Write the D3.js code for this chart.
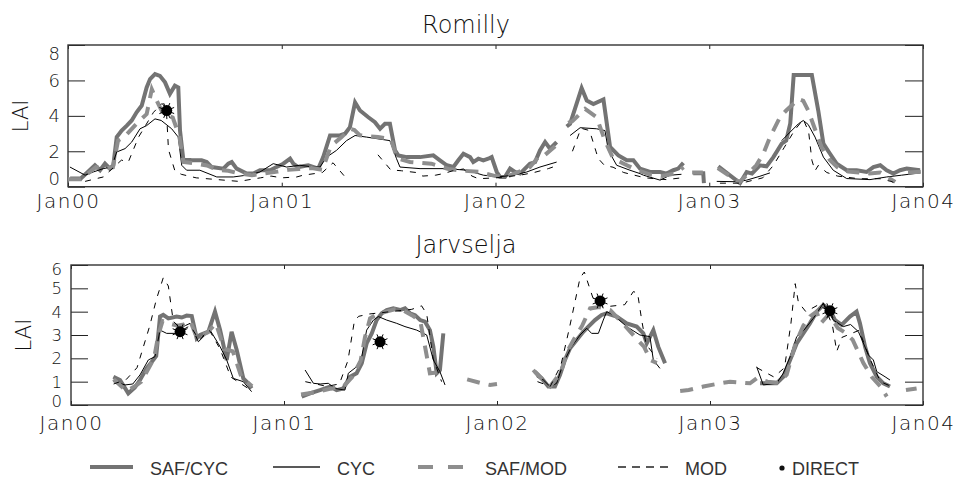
<!DOCTYPE html>
<html>
<head>
<meta charset="utf-8">
<script src="https://cdn.jsdelivr.net/npm/d3@7"></script>
<style>
  html, body { margin: 0; padding: 0; background: #fff; }
  svg { display: block; }
</style>
</head>
<body>
<div id="chart"></div>
<script>
// ---------------- DATA (time in years since Jan 2000, LAI values; null = gap) ----------------
const X_TICKS = [0, 1, 2, 3, 4];
const X_LABELS = ["Jan00", "Jan01", "Jan02", "Jan03", "Jan04"];
const ROM_Y_TICKS = [0, 2, 4, 6, 8];
const JAR_Y_TICKS = [0, 1, 2, 3, 4, 5, 6];
const LEGEND_LABELS = ["SAF/CYC", "CYC", "SAF/MOD", "MOD", "DIRECT"];

const romSafCyc = [[0.01,0.46],[0.06,0.46],[0.126,1.21],[0.15,0.93],[0.173,1.3],[0.196,1.02],[0.212,1.21],[0.228,2.8],[0.251,3.17],[0.275,3.45],[0.298,3.74],[0.321,4.2],[0.345,4.58],[0.368,5.6],[0.384,6.08],[0.407,6.36],[0.43,6.26],[0.454,5.89],[0.477,5.24],[0.5,5.7],[0.516,5.6],[0.524,3.17],[0.539,1.58],[0.578,1.49],[0.625,1.49],[0.649,1.39],[0.672,1.11],[0.727,1.02],[0.75,1.3],[0.766,1.39],[0.789,1.02],[0.836,0.74],[0.867,0.74],[0.898,0.93],[0.945,0.93],[0.976,1.11],[1.007,1.3],[1.039,1.58],[1.054,1.3],[1.077,1.11],[1.124,1.21],[1.171,1.02],[1.194,1.67],[1.226,2.89],[1.272,2.89],[1.296,2.99],[1.319,3.36],[1.343,4.76],[1.366,4.3],[1.405,3.92],[1.436,3.64],[1.46,3.27],[1.483,3.55],[1.506,3.55],[1.53,2.05],[1.545,1.77],[1.585,1.67],[1.647,1.67],[1.709,1.77],[1.74,1.49],[1.772,1.21],[1.803,1.11],[1.826,1.49],[1.85,1.86],[1.881,1.67],[1.896,1.39],[1.92,1.58],[1.943,1.49],[1.966,1.58],[1.982,1.67],[2.006,0.83],[2.021,0.55],[2.044,0.55],[2.068,1.02],[2.091,0.83],[2.115,0.74],[2.138,1.02],[2.161,1.3],[2.185,1.39],[2.208,2.05],[2.232,2.52],[2.255,2.15],[2.286,2.52],null,[2.333,3.4],[2.349,3.55],[2.403,5.57],[2.427,4.86],[2.458,4.67],[2.505,4.93],[2.536,2.24],[2.575,1.77],[2.614,1.49],[2.645,1.49],[2.676,1.02],[2.723,0.83],[2.77,0.83],[2.8,0.74],[2.832,0.93],[2.855,1.02],[2.879,1.34],null,[2.925,0.76],[2.972,0.76],[2.975,0.2],null,[3.042,1.15],[3.144,0.21],[3.175,0.83],[3.2,0.74],[3.237,1.21],[3.268,1.15],[3.3,1.67],[3.339,2.43],[3.36,2.6],[3.379,3.57],[3.395,6.3],[3.48,6.3],[3.51,4.3],[3.534,2.43],[3.565,1.86],[3.596,1.3],[3.643,0.93],[3.69,0.93],[3.736,0.83],[3.768,1.11],[3.8,1.21],[3.83,0.93],[3.861,0.74],[3.893,0.93],[3.924,1.02],[3.986,0.93]];
const romCyc = [[0.009,1.11],[0.08,0.65],[0.118,0.83],[0.165,1.02],[0.204,1.11],[0.228,1.96],[0.267,2.15],[0.298,2.52],[0.337,3.27],[0.368,3.45],[0.407,3.83],[0.436,3.74],[0.485,3.27],[0.516,2.8],[0.532,1.21],[0.555,0.93],[0.617,0.93],[0.696,0.55],[0.773,0.55],[0.836,0.65],[0.898,0.83],[0.96,1.3],[1.023,1.11],[1.085,1.21],[1.148,1.11],[1.179,1.11],[1.21,1.67],[1.256,2.05],[1.303,2.6],[1.343,2.89],[1.397,2.8],[1.506,2.6],[1.537,1.58],[1.553,1.11],[1.647,1.02],[1.772,1.02],[1.865,0.93],[1.943,0.65],[2.013,0.55],[2.083,0.65],[2.146,0.83],[2.208,1.11],[2.286,1.39],null,[2.349,2.89],[2.396,3.33],[2.473,3.27],[2.512,3.17],[2.528,2.05],[2.567,1.21],[2.629,0.93],[2.676,0.74],[2.692,0.65],[2.77,0.37],[2.817,0.65],[2.87,0.7],null,[3.035,0.3],[3.13,0.28],[3.175,0.37],[3.237,0.59],[3.284,0.78],null,[3.339,2.6],[3.378,3.08],[3.417,3.55],[3.44,3.74],[3.463,3.51],[3.495,2.8],[3.534,1.67],[3.58,0.93],[3.643,0.46],[3.752,0.4],[3.83,0.55],[3.9,0.65],[3.986,0.78]];
const romSafMod = [[0.0,0.42],[0.06,0.42],[0.13,1.1],[0.17,1.0],[0.21,1.1],[0.234,2.6],[0.27,2.9],[0.32,3.55],[0.368,4.1],[0.392,5.5],[0.415,4.86],[0.446,4.1],[0.49,3.9],[0.52,2.9],[0.54,1.4],[0.6,1.3],[0.65,1.2],[0.7,0.95],[0.75,0.9],[0.8,0.75],[0.86,0.65],[0.92,0.75],[0.98,0.85],[1.03,0.95],[1.08,1.0],[1.14,1.05],[1.19,0.95],[1.23,2.3],[1.28,2.8],[1.319,3.27],[1.34,3.2],[1.366,2.9],[1.45,2.8],[1.51,2.7],[1.54,1.6],[1.6,1.4],[1.7,1.3],[1.78,1.0],[1.85,0.9],[1.92,0.85],[2.0,0.6],[2.05,0.55],[2.1,0.8],[2.16,1.1],[2.208,1.77],[2.232,1.8],[2.28,2.3],null,[2.34,3.6],[2.36,3.7],[2.419,4.39],[2.473,3.92],[2.512,2.6],[2.55,1.6],[2.6,1.3],[2.65,1.0],[2.72,0.7],[2.78,0.6],[2.84,0.75],[2.88,1.1],null,[2.92,0.8],[2.97,0.8],null,[3.04,1.05],[3.14,0.25],[3.18,0.7],[3.22,1.21],[3.253,1.86],[3.284,2.8],[3.331,3.92],[3.36,4.3],[3.393,4.67],[3.417,4.95],[3.44,4.85],[3.463,4.3],[3.525,2.24],[3.565,1.49],[3.6,1.1],[3.65,0.85],[3.7,0.8],[3.75,0.75],[3.8,0.8],[3.87,0.27],null,[3.93,0.8],[3.99,0.85]];
const romMod = [[0.08,0.3],[0.165,0.55],[0.25,1.5],[0.282,1.39],[0.33,2.8],[0.4,4.2],[0.44,4.7],[0.46,4.4],[0.47,2.1],[0.5,0.9],[0.53,0.7],[0.6,0.5],[0.7,0.4],[0.8,0.3],[0.9,0.5],[0.95,0.6],[1.0,0.5],[1.07,0.55],[1.1,0.65],[1.19,0.8],[1.24,1.35],[1.3,0.5],null,[1.45,1.8],[1.51,0.95],[1.56,0.9],[1.63,0.8],[1.66,0.6],[1.72,0.65],[1.76,0.75],[1.8,0.9],[1.85,1.0],[1.89,0.6],[1.92,0.45],[2.0,0.5],[2.115,0.65],[2.18,0.8],[2.247,1.02],[2.29,1.2],null,[2.36,2.0],[2.4,3.3],[2.44,3.17],[2.47,2.0],[2.48,1.6],[2.51,1.2],[2.55,1.1],[2.6,0.8],[2.7,0.5],[2.8,0.4],[2.87,0.5],null,[3.05,0.2],[3.15,0.2],[3.25,0.5],[3.3,1.2],[3.35,2.2],[3.4,3.2],[3.44,3.8],[3.465,3.1],[3.48,1.5],[3.495,0.9],[3.51,1.2],[3.55,0.8],[3.6,0.6],[3.7,0.45],[3.8,0.45],[3.85,0.3],[3.87,0.2]];
const romDirect = [[0.462,4.3]];

const jarSafCyc = [[0.199,1.21],[0.23,1.07],[0.269,0.5],[0.3,0.75],[0.324,1.07],[0.355,1.57],[0.386,1.93],[0.4,2.1],[0.418,3.79],[0.433,3.86],[0.457,3.71],[0.496,3.79],[0.52,3.75],[0.543,3.83],[0.567,3.81],[0.59,2.86],[0.606,3.0],[0.645,3.14],[0.676,4.0],[0.7,3.21],[0.731,1.93],[0.754,3.14],[0.778,2.36],[0.809,1.14],[0.832,0.93],[0.848,0.71],null,[1.083,0.36],[1.122,0.5],[1.169,0.64],[1.216,0.79],[1.247,0.64],[1.278,0.71],[1.31,1.21],[1.341,1.36],[1.365,1.79],[1.388,2.64],[1.412,3.07],[1.435,3.64],[1.459,3.93],[1.482,4.07],[1.513,4.14],[1.545,4.07],[1.568,4.14],[1.592,3.93],[1.615,3.85],[1.639,3.64],[1.662,3.57],[1.685,3.21],[1.701,2.5],[1.717,1.36],[1.732,1.5],[1.748,3.07],null,[2.178,1.43],[2.21,1.14],[2.241,0.79],[2.272,0.79],[2.296,1.29],[2.319,1.93],[2.343,2.43],[2.374,2.79],[2.405,3.14],[2.429,3.36],[2.46,3.64],[2.491,3.86],[2.515,3.93],[2.562,3.79],[2.609,3.5],[2.656,3.36],[2.687,3.07],[2.703,2.64],[2.734,3.21],[2.757,2.5],[2.789,1.79],null,[3.235,0.93],[3.313,0.93],[3.344,1.21],[3.376,1.93],[3.407,2.64],[3.438,3.07],[3.469,3.5],[3.501,4.0],[3.532,4.29],[3.563,4.07],[3.587,3.64],[3.618,3.43],[3.657,3.79],[3.688,4.0],[3.704,3.5],[3.728,2.5],[3.751,1.79],[3.783,1.21],[3.814,0.93],[3.845,0.79]];
const jarCyc = [[0.199,1.0],[0.254,0.86],[0.29,0.9],[0.324,1.29],[0.363,1.93],[0.394,2.07],[0.418,3.21],[0.449,3.07],[0.496,3.07],[0.527,3.36],[0.559,3.5],[0.598,2.71],[0.653,3.21],[0.7,2.5],[0.731,1.93],[0.762,1.14],[0.809,1.0],[0.848,0.57],null,[1.099,1.5],[1.138,0.93],[1.17,0.9],[1.208,0.93],[1.239,0.71],[1.286,0.64],[1.302,1.36],[1.341,1.64],[1.365,2.07],[1.388,3.21],[1.42,3.64],[1.443,3.79],[1.482,3.64],[1.529,3.5],[1.568,3.36],[1.623,3.21],[1.67,3.0],[1.701,1.93],[1.732,1.43],[1.756,0.86],null,[2.186,1.21],[2.218,1.07],[2.249,0.79],[2.28,0.93],[2.311,1.79],[2.35,2.5],[2.39,3.0],[2.421,3.29],[2.444,3.07],[2.476,3.07],[2.499,3.64],[2.515,4.0],[2.546,3.86],[2.609,3.36],[2.671,3.0],[2.718,2.93],[2.734,1.93],[2.765,1.57],null,[3.219,1.64],[3.25,0.86],[3.313,0.93],[3.344,1.36],[3.376,2.07],[3.407,2.93],[3.44,3.2],[3.485,3.71],[3.532,4.36],[3.579,3.64],[3.626,3.36],[3.66,3.45],[3.697,3.14],[3.744,2.14],[3.767,1.93],[3.783,1.43],[3.822,1.21],[3.845,1.07]];
const jarSafMod = [[0.2,1.1],[0.26,0.6],[0.3,0.8],[0.33,1.0],[0.36,1.5],[0.39,2.0],[0.41,3.0],[0.43,3.6],[0.46,3.5],[0.5,3.4],[0.53,3.45],[0.56,3.6],[0.59,2.9],[0.64,3.1],[0.68,3.5],[0.72,2.4],[0.76,2.3],[0.8,1.2],[0.85,0.8],null,[1.08,0.45],[1.15,0.55],[1.22,0.7],[1.28,0.8],[1.32,1.2],[1.36,1.9],[1.38,2.9],[1.404,3.71],[1.44,3.9],[1.48,4.0],[1.52,4.1],[1.56,4.05],[1.6,3.85],[1.64,3.6],[1.685,1.36],[1.72,1.4],null,[1.86,1.1],[1.92,0.95],[1.967,0.86],[2.0,0.9],null,[2.17,1.5],[2.2,1.2],[2.25,0.8],[2.3,1.4],[2.33,2.3],[2.36,2.8],[2.4,3.4],[2.437,4.14],[2.48,4.2],[2.531,4.07],[2.58,3.6],[2.62,3.2],[2.66,2.79],[2.69,2.5],[2.72,1.93],[2.75,1.8],null,[2.86,0.6],[2.9,0.64],[2.969,0.79],[3.03,0.9],[3.094,1.0],[3.188,0.93],[3.219,1.14],[3.27,1.0],[3.32,0.95],[3.36,1.3],[3.4,2.6],[3.438,3.4],[3.47,3.8],[3.5,4.0],[3.52,3.5],[3.56,3.9],[3.6,3.3],[3.64,3.07],[3.67,2.79],[3.72,1.8],[3.76,1.2],[3.8,0.8],[3.83,0.36],null,[3.92,0.64],[3.97,0.71]];
const jarMod = [[0.2,0.9],[0.26,1.1],[0.31,1.6],[0.34,2.5],[0.37,3.4],[0.4,4.5],[0.433,5.45],[0.457,5.1],[0.48,3.6],[0.52,3.2],[0.56,3.4],[0.6,2.8],[0.65,3.2],[0.7,2.4],[0.75,1.2],[0.8,0.9],[0.85,0.6],null,[1.1,1.0],[1.2,0.8],[1.26,0.9],[1.3,1.9],[1.33,3.57],[1.35,3.8],[1.4,3.9],[1.5,4.0],[1.6,4.1],[1.646,4.25],[1.67,3.9],[1.7,2.0],[1.74,1.0],null,[2.19,1.0],[2.25,0.8],[2.3,1.7],[2.34,3.3],[2.39,5.45],[2.41,5.7],[2.45,4.6],[2.5,4.2],[2.6,4.3],[2.64,4.86],[2.66,4.8],[2.68,3.6],[2.7,2.6],[2.75,2.0],null,[3.22,1.6],[3.3,1.2],[3.35,1.6],[3.38,3.5],[3.4,5.2],[3.415,4.4],[3.45,4.0],[3.53,4.4],[3.575,3.4],[3.595,2.3],[3.62,2.9],[3.7,3.2],[3.75,2.0],[3.8,1.0],[3.85,0.8]];
const jarDirect = [[0.512,3.14],[1.451,2.71],[2.484,4.46],[3.563,4.04]];

// ---------------- STYLE ----------------
const W = 962, H = 478;
const TICK_FONT = "'DejaVu Sans', sans-serif";
const COL_SAFCYC = "#737373", COL_SAFMOD = "#8e8e8e";

const svg = d3.select("#chart").append("svg")
  .attr("width", W).attr("height", H).attr("viewBox", `0 0 ${W} ${H}`);
svg.append("rect").attr("width", W).attr("height", H).attr("fill", "#fff");

function drawPanel(cfg) {
  const x = d3.scaleLinear().domain([0, 4]).range([cfg.left, cfg.right]);
  const y = d3.scaleLinear().domain([0, cfg.yMax]).range([cfg.bottom, cfg.top]);
  const g = svg.append("g");
  const clipId = "clip-" + cfg.id;
  svg.append("clipPath").attr("id", clipId).append("rect")
    .attr("x", cfg.left).attr("y", cfg.top)
    .attr("width", cfg.right - cfg.left).attr("height", cfg.bottom - cfg.top);

  // title
  g.append("text").attr("x", cfg.titleX).attr("y", cfg.titleY)
    .attr("text-anchor", "middle").attr("font-family", TICK_FONT).attr("font-weight", 200)
    .attr("font-size", 24).attr("fill", "#111").text(cfg.title);

  // y label
  g.append("text").attr("transform", `translate(${cfg.left - 47},${(cfg.top + cfg.bottom) / 2}) rotate(-90)`)
    .attr("text-anchor", "middle").attr("dominant-baseline", "central")
    .attr("font-family", TICK_FONT).attr("font-weight", 200).attr("font-size", 21).attr("fill", "#111").text("LAI");

  const styleAxis = sel => {
    sel.select(".domain").remove();
    sel.selectAll(".tick line").attr("stroke", "#222").attr("stroke-width", 1);
    sel.selectAll("text").attr("fill", "#111").attr("font-family", TICK_FONT).attr("font-weight", 200);
    sel.attr("font-family", null).attr("font-size", null);
  };

  // bottom axis with labels
  g.append("g").attr("transform", `translate(0,${cfg.bottom})`)
    .call(d3.axisBottom(x).tickValues(X_TICKS).tickSize(-4).tickPadding(cfg.xPad)
      .tickFormat((d, i) => X_LABELS[i]))
    .call(styleAxis)
    .call(s => s.selectAll("text").attr("font-size", 20).attr("letter-spacing", 1.5));
  // top axis ticks
  g.append("g").attr("transform", `translate(0,${cfg.top})`)
    .call(d3.axisTop(x).tickValues(X_TICKS).tickSize(-4).tickFormat(""))
    .call(styleAxis);
  // left axis
  const yMax = cfg.yMax;
  g.append("g").attr("transform", `translate(${cfg.left},0)`)
    .call(d3.axisLeft(y).tickValues(cfg.yTicks).tickSize(-17).tickPadding(cfg.yPad).tickFormat(d3.format("d")))
    .call(styleAxis)
    .call(s => s.selectAll("text").attr("font-size", cfg.yFont)
      .attr("dy", d => d === yMax ? cfg.topShift : (d === 0 ? cfg.zeroShift : "0.34em")));
  // right axis ticks
  g.append("g").attr("transform", `translate(${cfg.right},0)`)
    .call(d3.axisRight(y).tickValues(cfg.yTicks).tickSize(-18).tickFormat(""))
    .call(styleAxis);

  // frame
  g.append("rect").attr("x", cfg.left).attr("y", cfg.top)
    .attr("width", cfg.right - cfg.left).attr("height", cfg.bottom - cfg.top)
    .attr("fill", "none").attr("stroke", "#333").attr("stroke-width", 1.4);

  const line = d3.line().defined(d => d !== null).x(d => x(d[0])).y(d => y(d[1]));
  const plot = g.append("g").attr("clip-path", `url(#${clipId})`);

  plot.append("path").datum(cfg.safcyc).attr("d", line).attr("fill", "none")
    .attr("stroke", COL_SAFCYC).attr("stroke-width", 4);
  plot.append("path").datum(cfg.cyc).attr("d", line).attr("fill", "none")
    .attr("stroke", "#000").attr("stroke-width", 1);
  plot.append("path").datum(cfg.safmod).attr("d", line).attr("fill", "none")
    .attr("stroke", COL_SAFMOD).attr("stroke-width", 4).attr("stroke-dasharray", "13,9");
  plot.append("path").datum(cfg.mod).attr("d", line).attr("fill", "none")
    .attr("stroke", "#000").attr("stroke-width", 1).attr("stroke-dasharray", "6,7");

  const dg = plot.selectAll("g.direct").data(cfg.direct).join("g")
    .attr("transform", d => `translate(${x(d[0])},${y(d[1])})`);
  dg.append("circle").attr("r", 5.5).attr("fill", "#000");
  dg.selectAll("line").data(d3.range(8)).join("line")
    .attr("x1", 0).attr("y1", 0)
    .attr("x2", k => 8 * Math.cos(k * Math.PI / 4 + 0.39))
    .attr("y2", k => 8 * Math.sin(k * Math.PI / 4 + 0.39))
    .attr("stroke", "#000").attr("stroke-width", 1);
}

drawPanel({ id: "rom", title: "Romilly", titleX: 466, titleY: 33,
  left: 68, right: 923, top: 45, bottom: 186.7, yMax: 8, yTicks: ROM_Y_TICKS,
  xPad: 7, yPad: 8, yFont: 18, topShift: 14, zeroShift: -2.2,
  safcyc: romSafCyc, cyc: romCyc, safmod: romSafMod, mod: romMod, direct: romDirect });

drawPanel({ id: "jar", title: "Jarvselja", titleX: 466, titleY: 253,
  left: 71, right: 923, top: 265, bottom: 405, yMax: 6, yTicks: JAR_Y_TICKS,
  xPad: 10.3, yPad: 9, yFont: 16.5, topShift: 9.5, zeroShift: 1.5,
  safcyc: jarSafCyc, cyc: jarCyc, safmod: jarSafMod, mod: jarMod, direct: jarDirect });

// ---------------- LEGEND ----------------
const legY = 467;
const leg = svg.append("g").attr("font-family", "'Liberation Sans', Arial, sans-serif").attr("font-size", 18).attr("fill", "#333");
const legItems = [
  { x1: 90, x2: 133, tx: 150, stroke: COL_SAFCYC, w: 4, dash: null },
  { x1: 273, x2: 320, tx: 337, stroke: "#222", w: 1.6, dash: null },
  { x1: 418, x2: 463, tx: 485, stroke: COL_SAFMOD, w: 4, dash: "15,15" },
  { x1: 618, x2: 670, tx: 685, stroke: "#222", w: 1.6, dash: "8,6" },
  { x1: null, x2: null, tx: 792, stroke: null }
];
legItems.forEach((it, i) => {
  if (it.x1 !== null) {
    leg.append("line").attr("x1", it.x1).attr("x2", it.x2).attr("y1", legY).attr("y2", legY)
      .attr("stroke", it.stroke).attr("stroke-width", it.w).attr("stroke-dasharray", it.dash);
  } else {
    leg.append("circle").attr("cx", 782).attr("cy", legY + 1).attr("r", 2.6).attr("fill", "#111");
  }
  leg.append("text").attr("x", it.tx).attr("y", legY + 8).text(LEGEND_LABELS[i]);
});
</script>
</body>
</html>
